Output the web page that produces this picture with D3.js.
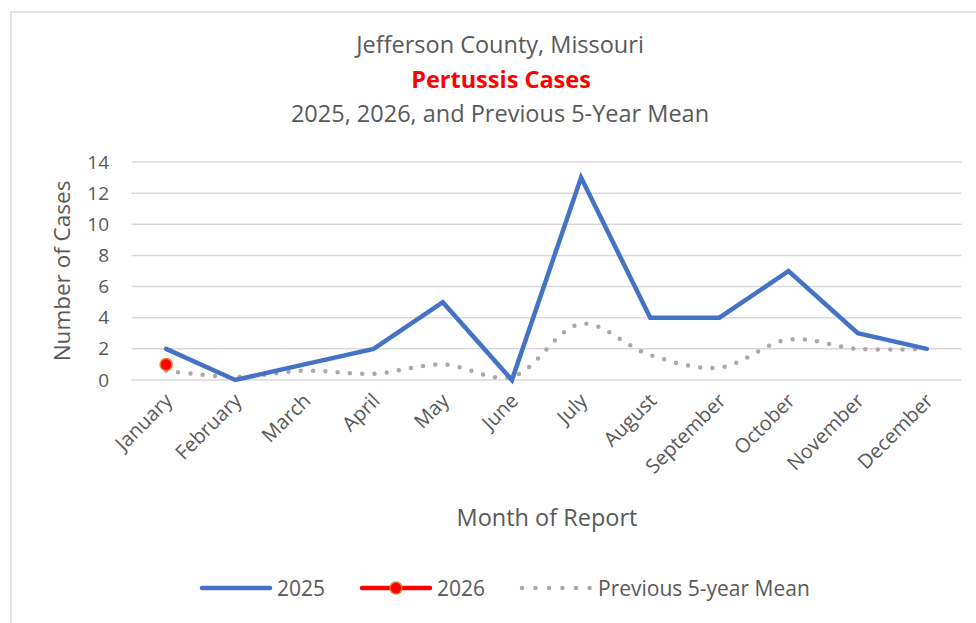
<!DOCTYPE html>
<html>
<head>
<meta charset="utf-8">
<script src="https://cdn.jsdelivr.net/npm/d3@7"></script>
<style>
  body { margin: 0; background: #fff; }
  text { font-family: "Open Sans", "Noto Sans", sans-serif; fill: #595959; }
</style>
</head>
<body>
<div id="chart"></div>
<script>
var months = ["January", "February", "March", "April", "May", "June", "July",
              "August", "September", "October", "November", "December"];
var cases2025 = [2, 0, 1, 2, 5, 0, 13, 4, 4, 7, 3, 2];
var cases2026 = [1];
var prevMean = [0.6, 0.2, 0.6, 0.4, 1.0, 0.2, 3.6, 1.6, 0.8, 2.6, 2.0, 2.0];
var yTicks = [0, 2, 4, 6, 8, 10, 12, 14];

function init(){
    var w = 976;
    var h = 623;

    var svg = d3.select("#chart")
                .append("svg")
                .attr("width", w)
                .attr("height", h);

    // chart area border
    svg.append("rect")
        .attr("x", 11)
        .attr("y", 12)
        .attr("width", 1000)
        .attr("height", 700)
        .attr("fill", "#fff")
        .attr("stroke", "#d9d9d9")
        .attr("stroke-width", 1.5);

    var xScale = d3.scalePoint()
                    .domain(months)
                    .range([131.5 + 34.6, 961.5 - 34.6]);
    var yScale = d3.scaleLinear()
                    .domain([0, 14])
                    .range([380, 162]);

    // gridlines
    svg.selectAll("line.grid")
        .data(yTicks)
        .enter()
        .append("line")
        .attr("class", "grid")
        .attr("x1", 131.5)
        .attr("x2", 961.5)
        .attr("y1", function(d){ return yScale(d); })
        .attr("y2", function(d){ return yScale(d); })
        .attr("stroke", "#d9d9d9")
        .attr("stroke-width", 1.5);

    // y axis labels
    var yAxis = d3.axisLeft(yScale).tickValues(yTicks).tickSize(0).tickPadding(0);
    var yg = svg.append("g")
        .attr("transform", "translate(109,0)")
        .call(yAxis);
    yg.select(".domain").remove();
    yg.selectAll("text")
        .attr("font-size", "19px")
        .style("font-family", "'Open Sans', sans-serif")
        .attr("fill", "#595959");

    // x axis labels
    var xAxis = d3.axisBottom(xScale).tickSize(0).tickPadding(0);
    var xg = svg.append("g")
        .attr("transform", "translate(0,380)")
        .call(xAxis);
    xg.select(".domain").remove();
    xg.selectAll("text")
        .attr("font-size", "20px")
        .style("font-family", "'Open Sans', sans-serif")
        .attr("fill", "#595959")
        .attr("text-anchor", "end")
        .attr("dy", 0)
        .attr("y", 0)
        .attr("transform", "translate(7,22) rotate(-45)");

    // previous 5-year mean (smoothed, dotted)
    var meanLine = d3.line()
        .x(function(d, i){ return xScale(months[i]); })
        .y(function(d){ return yScale(d); })
        .curve(d3.curveCatmullRom.alpha(0.5));
    svg.append("path")
        .datum(prevMean)
        .attr("d", meanLine)
        .attr("fill", "none")
        .attr("stroke", "#ADA8A8")
        .attr("stroke-width", 4.5)
        .attr("stroke-linecap", "round")
        .attr("stroke-dasharray", "0 12.3");

    // 2025 line
    var line = d3.line()
        .x(function(d, i){ return xScale(months[i]); })
        .y(function(d){ return yScale(d); });
    svg.append("path")
        .datum(cases2025)
        .attr("d", line)
        .attr("fill", "none")
        .attr("stroke", "#4472C4")
        .attr("stroke-width", 4.5)
        .attr("stroke-linejoin", "miter")
        .attr("stroke-linecap", "round");

    // 2026 points
    svg.selectAll("circle.p2026")
        .data(cases2026)
        .enter()
        .append("circle")
        .attr("class", "p2026")
        .attr("cx", function(d, i){ return xScale(months[i]); })
        .attr("cy", function(d){ return yScale(d); })
        .attr("r", 6)
        .attr("fill", "#FF0000")
        .attr("stroke", "#ED7D31")
        .attr("stroke-width", 1.5);

    // titles
    svg.append("text")
        .attr("x", 500).attr("y", 53)
        .attr("text-anchor", "middle")
        .attr("font-size", "23.5px")
        .text("Jefferson County, Missouri");
    svg.append("text")
        .attr("x", 501).attr("y", 88)
        .attr("text-anchor", "middle")
        .attr("font-size", "23.5px")
        .attr("font-weight", "bold")
        .style("fill", "#FF0000")
        .text("Pertussis Cases");
    svg.append("text")
        .attr("x", 500).attr("y", 122)
        .attr("text-anchor", "middle")
        .attr("font-size", "23.5px")
        .text("2025, 2026, and Previous 5-Year Mean");

    // axis titles
    svg.append("text")
        .attr("transform", "translate(70,271) rotate(-90)")
        .attr("text-anchor", "middle")
        .attr("font-size", "22.5px")
        .text("Number of Cases");
    svg.append("text")
        .attr("x", 547).attr("y", 526)
        .attr("text-anchor", "middle")
        .attr("font-size", "23.5px")
        .text("Month of Report");

    // legend
    var ly = 588;
    svg.append("line")
        .attr("x1", 202).attr("x2", 270).attr("y1", ly).attr("y2", ly)
        .attr("stroke", "#4472C4").attr("stroke-width", 4.5).attr("stroke-linecap", "round");
    svg.append("text").attr("x", 277).attr("y", ly + 8).attr("font-size", "21px").text("2025");

    svg.append("line")
        .attr("x1", 362).attr("x2", 430).attr("y1", ly).attr("y2", ly)
        .attr("stroke", "#FF0000").attr("stroke-width", 4.5).attr("stroke-linecap", "round");
    svg.append("circle")
        .attr("cx", 396).attr("cy", ly).attr("r", 6)
        .attr("fill", "#FF0000").attr("stroke", "#ED7D31").attr("stroke-width", 1.5);
    svg.append("text").attr("x", 437).attr("y", ly + 8).attr("font-size", "21px").text("2026");

    svg.append("line")
        .attr("x1", 522).attr("x2", 590).attr("y1", ly).attr("y2", ly)
        .attr("stroke", "#ADA8A8").attr("stroke-width", 4.5)
        .attr("stroke-linecap", "round").attr("stroke-dasharray", "0 13.5");
    svg.append("text").attr("x", 598).attr("y", ly + 8).attr("font-size", "21px").text("Previous 5-year Mean");
}

window.onload = init;
</script>
</body>
</html>
